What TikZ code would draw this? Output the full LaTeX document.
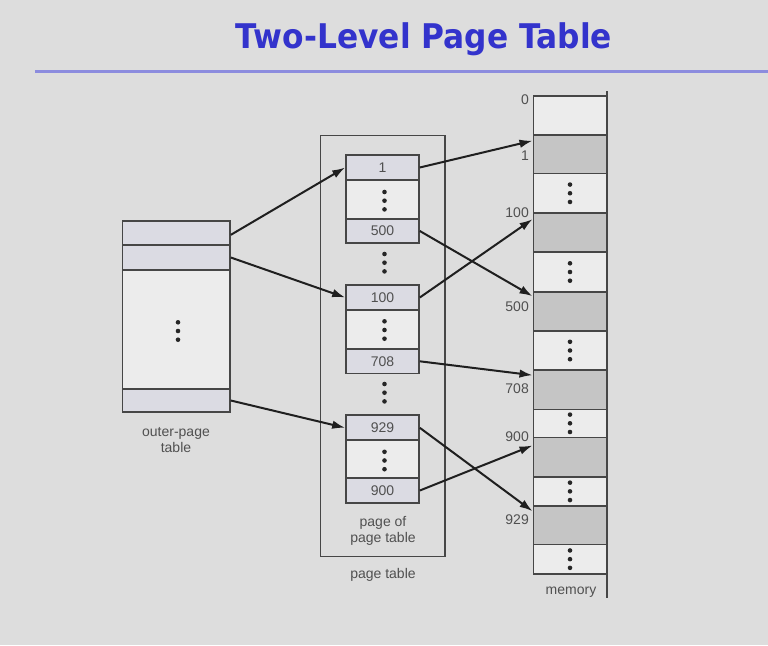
\documentclass[tikz,border=0pt]{standalone}
\usepackage{fontspec}
\setmainfont{Liberation Sans}
\newfontfamily\titlefont[FakeStretch=0.92]{DejaVu Sans}
\usetikzlibrary{arrows.meta}
\definecolor{bgcol}{RGB}{221,221,221}
\definecolor{cellcol}{RGB}{236,236,236}
\definecolor{entrycol}{RGB}{219,219,227}
\definecolor{framecol}{RGB}{197,197,197}
\definecolor{linecol}{RGB}{70,70,70}
\definecolor{txtcol}{RGB}{80,80,80}
\definecolor{titlecol}{RGB}{51,51,204}
\definecolor{rulecol}{RGB}{140,140,222}
\newcommand{\threedots}[1]{\foreach \k in {-1,0,1}\fill[black!85] ([yshift=\k*8.7pt]#1) circle (2.3pt);}
\begin{document}
\begin{tikzpicture}[x=1pt,y=-1pt,
  lbl/.style={text=txtcol,font=\fontsize{14}{16}\selectfont,inner sep=0pt,align=center},
  entry/.style={draw=linecol,line width=1.6pt,fill=entrycol,minimum width=73pt,minimum height=24.5pt,inner sep=0pt,text=txtcol,font=\fontsize{14}{14}\selectfont},
  outrow/.style={draw=linecol,line width=1.6pt,fill=entrycol,minimum width=107.7pt,inner sep=0pt},
  memcell/.style={draw=linecol,line width=1.6pt,minimum width=73.4pt,inner sep=0pt},
  ptr/.style={draw=black!88,line width=2pt,-{Latex[length=13pt,width=8.5pt]}}]
\useasboundingbox (0,0) rectangle (768,645);
\fill[bgcol] (0,0) rectangle (768,645);
% title
\node[text=titlecol,font=\titlefont\bfseries\fontsize{34}{34}\selectfont] (title) at (424,39) {Two-Level Page Table};
\draw[rulecol,line width=3pt] (35,71)--(768,71);
% outer-page table
\draw[linecol,line width=1.6pt,fill=cellcol] (122.3,220.7) rectangle (230,412);
\node[outrow,minimum height=24.3pt] (o1) at (176.15,232.85) {};
\node[outrow,minimum height=25pt] (o2) at (176.15,257.5) {};
\node[outrow,minimum height=23pt] (o3) at (176.15,400.5) {};
\threedots{178,331}
\node[lbl] (outlbl) at (176,440) {outer-page\\table};
% page table
\draw[linecol,line width=1.3pt] (320.7,135.7) rectangle (445,556.7);
\draw[linecol,line width=1.6pt,fill=cellcol] (346,155) rectangle (419,243);
\draw[linecol,line width=1.6pt,fill=cellcol] (346,285) rectangle (419,373.3);
\draw[linecol,line width=1.6pt,fill=cellcol] (346,415) rectangle (419,503);
\node[entry] (p1) at (382.5,167.5) {1};
\node[entry] (p500) at (382.5,231) {500};
\node[entry] (p100) at (382.5,297.5) {100};
\node[entry] (p708) at (382.5,361.3) {708};
\node[entry] (p929) at (382.5,427.8) {929};
\node[entry] (p900) at (382.5,490.5) {900};
\threedots{384.5,200.7}
\threedots{384.5,262.7}
\threedots{384.5,330}
\threedots{384.5,392.7}
\threedots{384.5,460.5}
\node[lbl] (poplbl) at (383,530.5) {page of\\page table};
\node[lbl] (ptlbl) at (383,575) {page table};
% memory
\foreach \nm/\ya/\yb/\fc in {m0/95.7/135/cellcol,m1/135/173.5/framecol,md1/173.5/213/cellcol,
  m100/213/252/framecol,md2/252/292/cellcol,m500/292/331/framecol,md3/331/370/cellcol,
  m708/370/409.3/framecol,md4/409.3/437.3/cellcol,m900/437.3/476.7/framecol,md5/476.7/506/cellcol,
  m929/506/544.3/framecol,md6/544.3/574/cellcol}
  \node[memcell,fill=\fc,minimum height=\yb-\ya] (\nm) at (570,{(\ya+\yb)/2}) {};
\foreach \nm in {md1,md2,md3,md4,md5,md6}
  \threedots{\nm.center}
\draw[linecol,line width=1.8pt] (606.9,91)--(606.9,598);
\node[lbl,anchor=east] at (529,100) {0};
\node[lbl,anchor=east] at (529,156) {1};
\node[lbl,anchor=east] at (529,213) {100};
\node[lbl,anchor=east] at (529,306.5) {500};
\node[lbl,anchor=east] at (529,389) {708};
\node[lbl,anchor=east] at (529,437) {900};
\node[lbl,anchor=east] at (529,520) {929};
\node[lbl] (memlbl) at (571,592) {memory};
% pointers
\draw[ptr] ([yshift=-2pt]o1.east)--(p1.west);
\draw[ptr] (o2.east)--(p100.west);
\draw[ptr] (o3.east)--(p929.west);
\draw[ptr] (p1.east)--([yshift=-6.5pt]m1.north west);
\draw[ptr] (p500.east)--([yshift=-5pt]m500.north west);
\draw[ptr] (p100.east)--([yshift=-7pt]m100.north west);
\draw[ptr] (p708.east)--([yshift=-6pt]m708.north west);
\draw[ptr] (p929.east)--([yshift=-6pt]m929.north west);
\draw[ptr] (p900.east)--([yshift=-9pt]m900.north west);
\end{tikzpicture}
\end{document}
